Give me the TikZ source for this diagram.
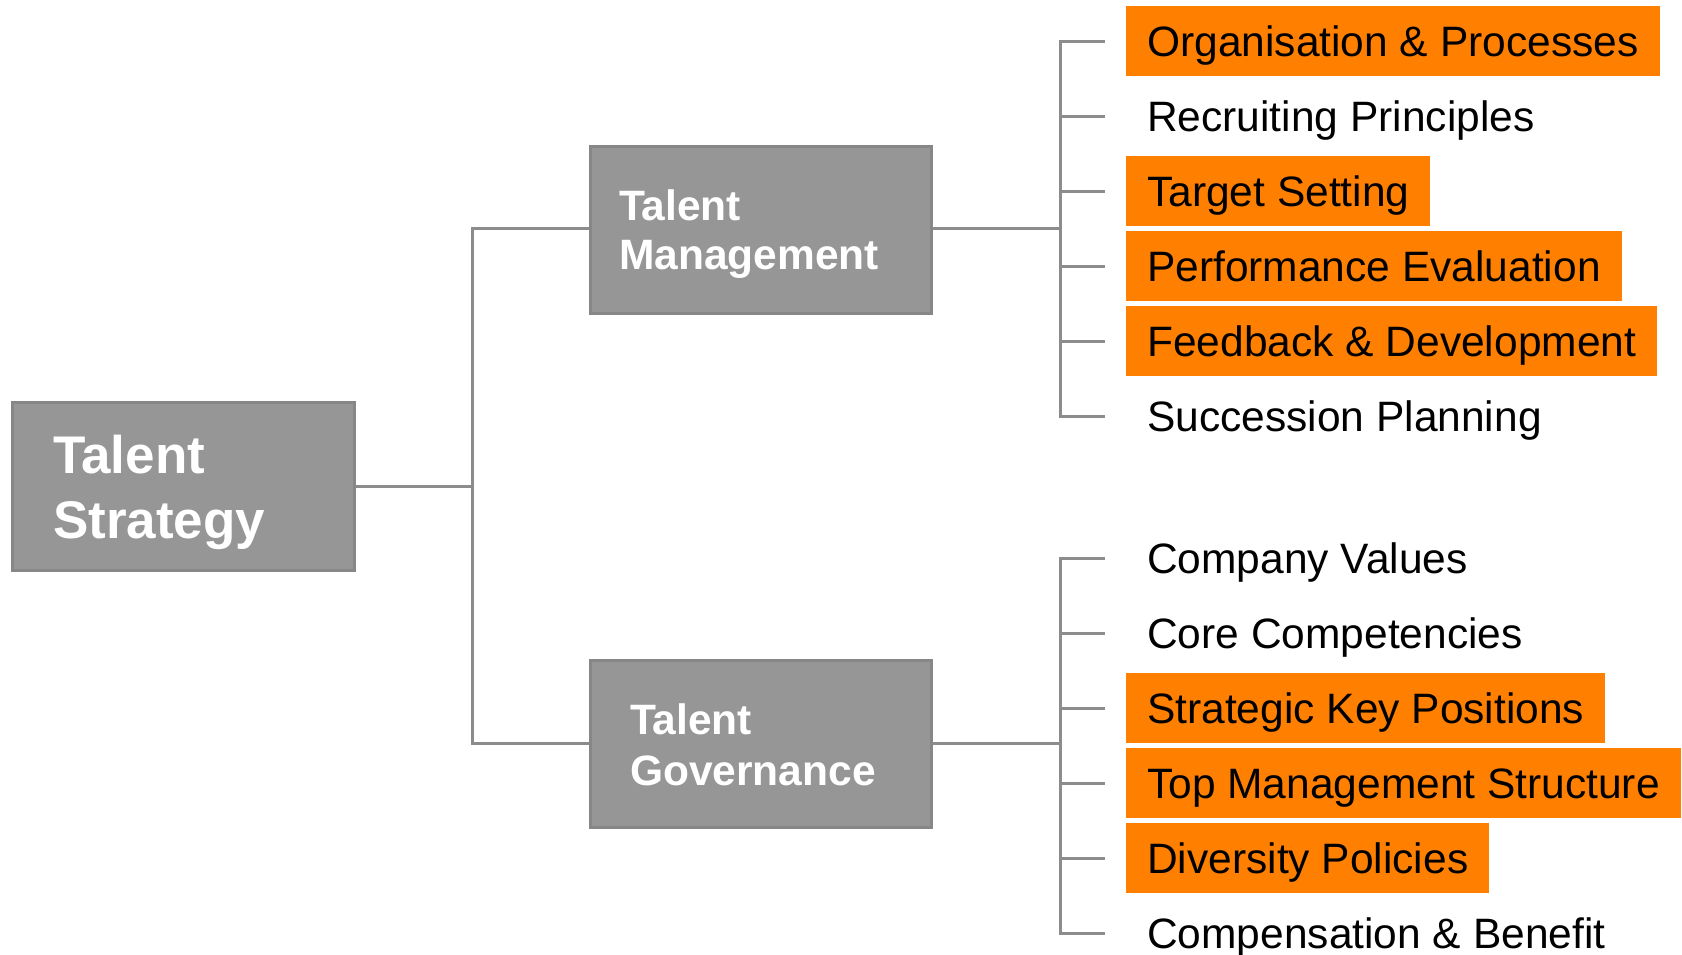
\documentclass[tikz,border=0pt]{standalone}
\usepackage{fontspec}
\setmainfont{Liberation Sans}
\definecolor{boxgray}{HTML}{969696}
\definecolor{boxedge}{HTML}{878787}
\definecolor{linegray}{HTML}{8C8C8C}
\definecolor{hlorange}{HTML}{FF8000}
\begin{document}
\begin{tikzpicture}[x=1pt,y=-1pt,
  graybox/.style={draw=boxedge, line width=3pt, fill=boxgray, text=white,
    align=left, inner ysep=0pt, font=\bfseries},
  item/.style={anchor=west, minimum height=70pt, inner xsep=21pt, inner ysep=0pt,
    text height=30pt, text depth=0pt, font=\fontsize{42.5}{50}\selectfont},
  hl/.style={item, fill=hlorange},
  conn/.style={draw=linegray, line width=3pt, line join=miter}]
\useasboundingbox (0,0) rectangle (1682,954);

% main boxes
\node[graybox, minimum width=342pt, minimum height=168pt, text width=260pt,
  inner xsep=41pt, text height=38pt, text depth=64pt,
  font=\bfseries\fontsize{53}{65}\selectfont]
  (ts) at (183,486) {Talent\\Strategy};
\node[graybox, minimum width=341pt, minimum height=167pt, text width=283pt,
  inner xsep=29pt, text height=30pt, text depth=49pt,
  font=\bfseries\fontsize{42.5}{49}\selectfont]
  (tm) at (760.5,229.5) {Talent\\Management};
\node[graybox, minimum width=341pt, minimum height=167pt, text width=261pt,
  inner xsep=40pt, text height=30pt, text depth=49pt,
  font=\bfseries\fontsize{42.5}{51}\selectfont]
  (tg) at (760.5,743.5) {Talent\\Governance};

% junction points
\coordinate (trunk) at (472,486);
\coordinate (bus) at (1060,0);

% first-level connectors
\draw[conn] (ts.east |- trunk) -- (trunk);
\draw[conn] (tm.west |- 0,228) -| (trunk) |- (tg.west |- 0,743);

% talent management items
\node[hl]   (o1) at (1126,41)  {Organisation \& Processes};
\node[item] (o2) at (1126,116) {Recruiting Principles};
\node[hl]   (o3) at (1126,191) {Target Setting};
\node[hl]   (o4) at (1126,266) {Performance Evaluation};
\node[hl]   (o5) at (1126,341) {Feedback \& Development};
\node[item] (o6) at (1126,416) {Succession Planning};

% talent governance items
\node[item] (g1) at (1126,558) {Company Values};
\node[item] (g2) at (1126,633) {Core Competencies};
\node[hl]   (g3) at (1126,708) {Strategic Key Positions};
\node[hl]   (g4) at (1126,783) {Top Management Structure};
\node[hl]   (g5) at (1126,858) {Diversity Policies};
\node[item] (g6) at (1126,933) {Compensation \& Benefit};

% management bracket
\draw[conn] (tm.east |- 0,228) -- (bus |- 0,228);
\draw[conn] ([xshift=-21pt]o1.west) -- (o1.west -| bus) -- (o6.west -| bus) -- ([xshift=-21pt]o6.west);
\foreach \n in {o2,o3,o4,o5}
  \draw[conn] (\n.west -| bus) -- ([xshift=-21pt]\n.west);

% governance bracket
\draw[conn] (tg.east |- 0,743) -- (bus |- 0,743);
\draw[conn] ([xshift=-21pt]g1.west) -- (g1.west -| bus) -- (g6.west -| bus) -- ([xshift=-21pt]g6.west);
\foreach \n in {g2,g3,g4,g5}
  \draw[conn] (\n.west -| bus) -- ([xshift=-21pt]\n.west);
\end{tikzpicture}
\end{document}
